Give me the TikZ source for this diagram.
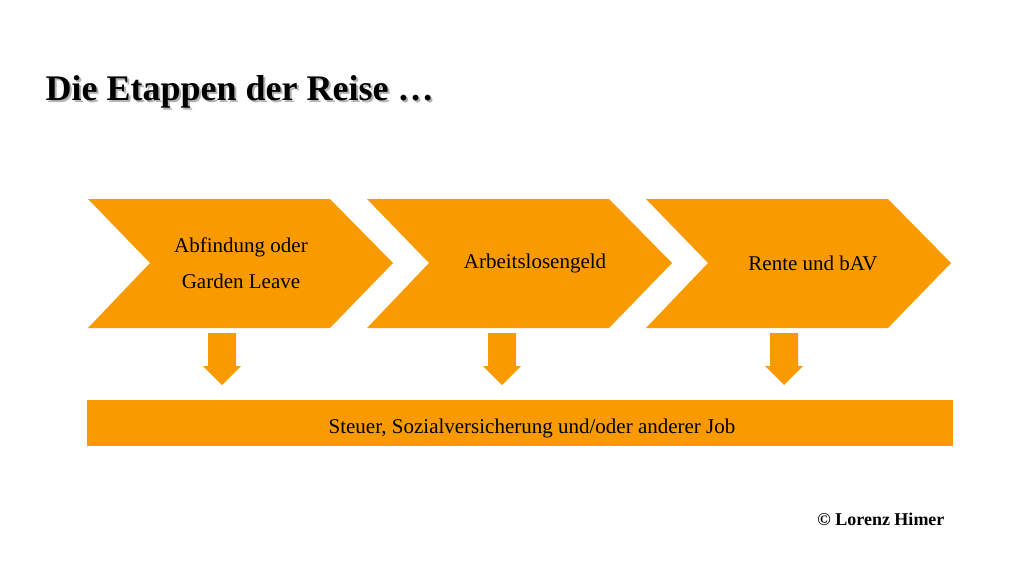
\documentclass[tikz,border=0pt]{standalone}
\usepackage{fontspec}
\setmainfont{Liberation Serif}
\definecolor{org}{RGB}{249,155,0}
\begin{document}
\begin{tikzpicture}[x=1pt,y=-1pt,
  chev/.style={fill=org,draw=none},
  lbl/.style={font=\fontsize{21}{36}\selectfont,align=center,text=black},
  darr/.style={fill=org,draw=none}]
\useasboundingbox (0,0) rectangle (1024,576);
\foreach \x/\n in {88/a,367/b,646/c}{
  \fill[chev] (\x,199) -- ++(242,0) -- ++(63,64) -- ++(-63,65) -- ++(-242,0) -- ++(62,-65) -- cycle;
}
\node[lbl] (a) at (241,263) {Abfindung oder\\Garden Leave};
\node[lbl] (b) at (535,263) {Arbeitslosengeld};
\node[lbl] (c) at (813,263) {Rente und bAV};
\foreach \cx in {222,502,784}{
  \fill[darr] (\cx-14,333) -- (\cx+14,333) -- (\cx+14,366) -- (\cx+19,366) -- (\cx,385) -- (\cx-19,366) -- (\cx-14,366) -- cycle;
}
\fill[org] (87,400) rectangle (953,446);
\node[lbl] (bar) at (532,428) {Steuer, Sozialversicherung und/oder anderer Job};
\node[anchor=base west,font=\bfseries\fontsize{36}{40}\selectfont,text=gray!60] at (44,102) {Die Etappen der Reise …};
\node[anchor=base west,font=\bfseries\fontsize{36}{40}\selectfont] (t) at (42,100) {Die Etappen der Reise …};
\node[anchor=base east,font=\bfseries\fontsize{18}{20}\selectfont] (cr) at (948,525) {© Lorenz Himer};
\end{tikzpicture}
\end{document}
